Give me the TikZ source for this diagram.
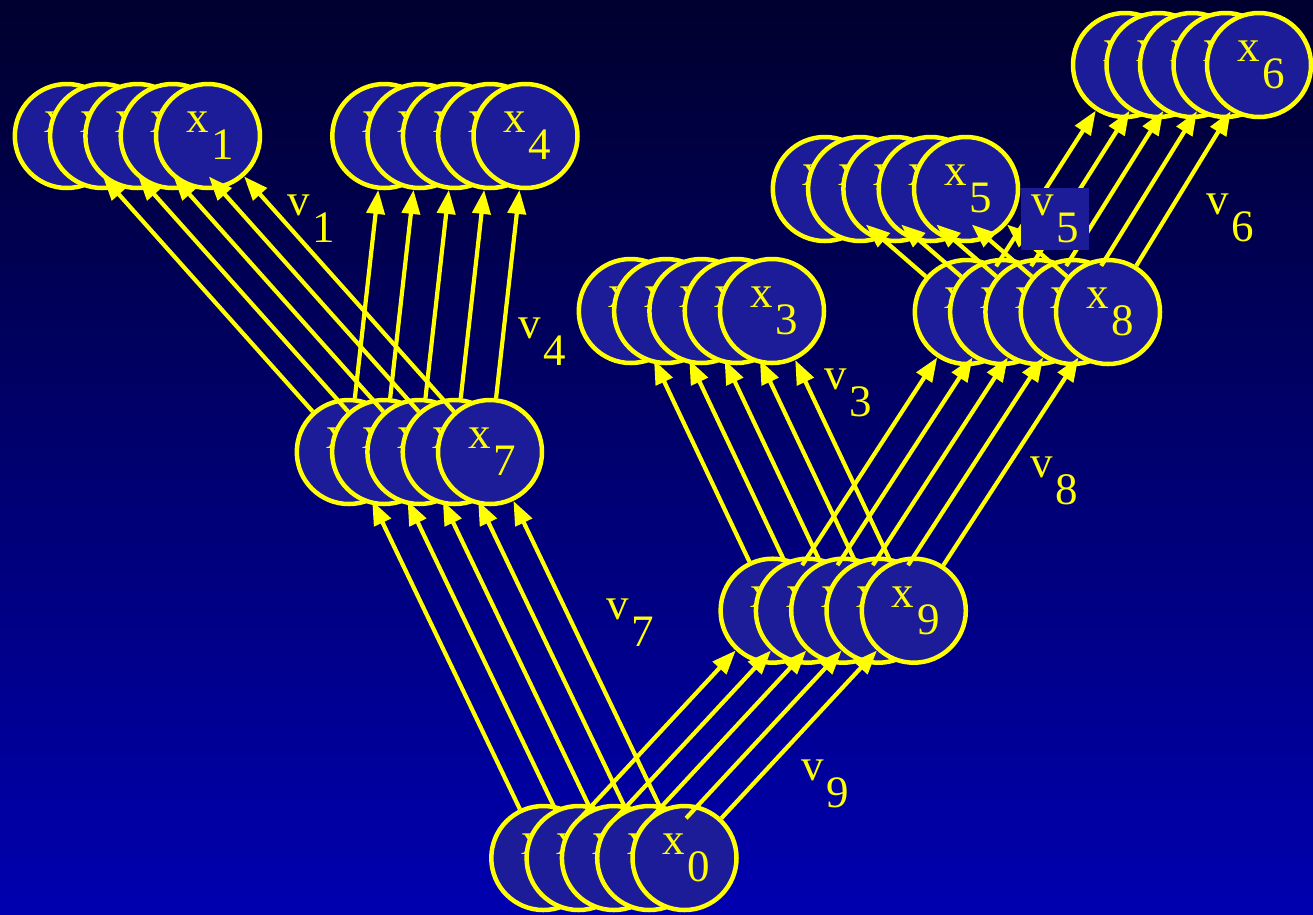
\documentclass[tikz,border=0pt]{standalone}
\usepackage{fontspec}
\setmainfont{Liberation Serif}
\usetikzlibrary{arrows.meta}
\definecolor{ballfill}{RGB}{28,27,152}
\definecolor{bgtop}{RGB}{0,0,46}
\definecolor{bgbot}{RGB}{0,0,176}
\definecolor{yel}{RGB}{255,255,0}
\newcommand\lbl[2]{#1\kern0.06em\raisebox{-0.6em}{#2}}
\newcommand\stk[5]{%
  \foreach \i in {1,...,5}{%
    \node[ball] (#1-\i) at ({#2-(5-\i)*#4},#3) {\kern4pt\lbl{x}{#5}};
  }}
\newcommand\arr[2]{%
  \foreach \i in {1,...,5}{%
    \draw[conn] (#1-\i) -- (#2-\i);
  }}
\begin{document}
\begin{tikzpicture}[x=1pt,y=-1pt,
  ball/.style={circle,draw=yel,fill=ballfill,line width=4.5pt,minimum size=104pt,inner sep=0pt,text=yel,font=\fontsize{45}{54}\selectfont},
  conn/.style={draw=yel,line width=4.2pt,-{Triangle[length=24pt,width=18pt]}},
  vlab/.style={text=yel,inner sep=0pt,font=\fontsize{45}{54}\selectfont},
  vbox/.style={vlab,fill=ballfill,inner xsep=10pt,inner ysep=6.5pt}]
\useasboundingbox (0,0) rectangle (1313,914);
\shade[top color=bgtop,bottom color=bgbot] (0,0) rectangle (1313,914);
% stacks
\stk{a1}{208}{136}{35.3}{1}
\stk{a4}{525.5}{136}{35.3}{4}
\stk{a6}{1259}{65}{33.5}{6}
\stk{a5}{966}{189}{35.3}{5}
\stk{a3}{772}{311}{35.3}{3}
\stk{a8}{1108}{312}{35.3}{8}
\stk{a7}{490}{452}{35.3}{7}
\stk{a9}{913.8}{610.7}{35.3}{9}
\stk{a0}{684.5}{858}{35.3}{0}
% connectors
\arr{a7}{a1}
\arr{a7}{a4}
\arr{a0}{a7}
\arr{a0}{a9}
\arr{a9}{a3}
\arr{a9}{a8}
\arr{a8}{a5}
\arr{a8}{a6}
% labels
\node[vlab] (v1) at (311,218.5) {\lbl{v}{1}};
\node[vlab] (v4) at (542.5,342) {\lbl{v}{4}};
\node[vlab] (v7) at (630,623) {\lbl{v}{7}};
\node[vlab] (v9) at (825,784) {\lbl{v}{9}};
\node[vlab] (v3) at (848,393) {\lbl{v}{3}};
\node[vlab] (v8) at (1054,481) {\lbl{v}{8}};
\node[vbox] (v5) at (1055,219) {\lbl{v}{5}};
\node[vlab] (v6) at (1230,217.5) {\lbl{v}{6}};
\end{tikzpicture}
\end{document}
